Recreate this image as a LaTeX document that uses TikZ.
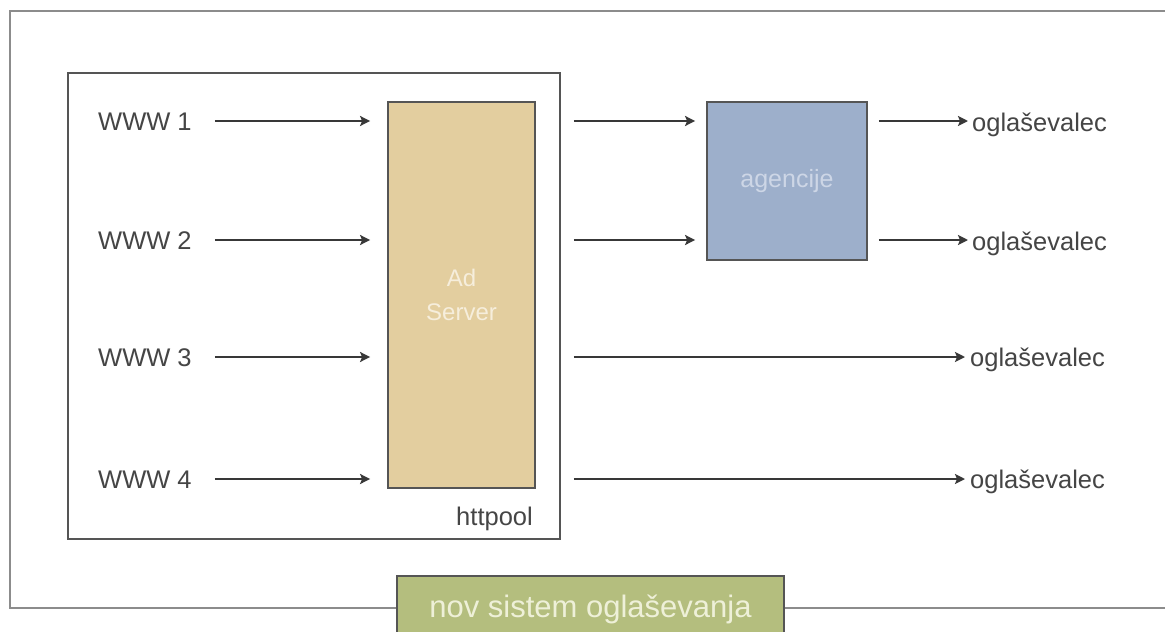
\documentclass[tikz,border=0pt]{standalone}
\usepackage{fontspec}
\setmainfont{Liberation Sans}
\usetikzlibrary{arrows.meta}
\definecolor{tanfill}{HTML}{E3CE9F}
\definecolor{tantext}{HTML}{F6EEDC}
\definecolor{bluefill}{HTML}{9DAFCB}
\definecolor{bluetext}{HTML}{CDD6E6}
\definecolor{greenfill}{HTML}{B4BE7E}
\definecolor{greentext}{HTML}{EEF0D8}
\definecolor{txtgray}{HTML}{454545}
\definecolor{arrgray}{HTML}{383838}
\definecolor{framegray}{HTML}{8C8C8C}
\definecolor{boxgray}{HTML}{555555}
\tikzset{
  lbl/.style={inner sep=0pt, anchor=base west, text=txtgray, font=\fontsize{25.5}{30}\selectfont},
  arr/.style={draw=arrgray, line width=2.2pt, -{Stealth[length=10pt,width=10pt,inset=2pt]}},
  adbox/.style={draw=boxgray, line width=1.8pt, fill=tanfill, minimum width=147pt, minimum height=386pt, inner sep=0pt,
     text=tantext, align=center, font=\fontsize{24}{30}\selectfont},
  agbox/.style={draw=boxgray, line width=1.8pt, fill=bluefill, minimum width=160pt, minimum height=158pt, inner sep=0pt,
     text=bluetext, font=\fontsize{25}{30}\selectfont},
  hpbox/.style={draw=boxgray, line width=1.8pt, minimum width=492pt, minimum height=466pt, inner sep=0pt},
  frame/.style={draw=framegray, line width=2.5pt},
  glbox/.style={draw=boxgray, line width=1.8pt, fill=greenfill, minimum width=387pt, minimum height=60pt, inner sep=0pt,
     text=greentext, text depth=0pt, font=\fontsize{31}{36}\selectfont}
}
\begin{document}
\begin{tikzpicture}[x=1pt,y=-1pt]
\useasboundingbox (0,0) rectangle (1165,632);
\fill[white] (0,0) rectangle (1165,632);
% outer frame (open to the right)
\draw[frame] (1166,11) -- (10,11) -- (10,608) -- (1166,608);
% httpool box
\node[hpbox] (hp) at (314,306) {};
\node[lbl, anchor=base east] (hpl) at (533,525) {httpool};
% rows
\coordinate (r1) at (0,121);
\coordinate (r2) at (0,240);
\coordinate (r3) at (0,357);
\coordinate (r4) at (0,479);
% boxes
\node[adbox] (ad) at (461.5,295) {Ad\\[4pt]Server};
\node[agbox] (ag) at (787,181) {agencije};
% labels
\node[lbl] (w1) at (98,130) {WWW 1};
\node[lbl] (w2) at (98,249) {WWW 2};
\node[lbl] (w3) at (98,366) {WWW 3};
\node[lbl] (w4) at (98,488) {WWW 4};
\node[lbl] (o1) at (972,131) {oglaševalec};
\node[lbl] (o2) at (972,250) {oglaševalec};
\node[lbl] (o3) at (970,366) {oglaševalec};
\node[lbl] (o4) at (970,488) {oglaševalec};
% inputs
\foreach \i in {1,2,3,4}{
  \draw[arr, shorten <=23pt, shorten >=17pt] (w\i.east |- r\i) -- (ad.west |- r\i);
}
% to agencije
\draw[arr, shorten <=38pt, shorten >=11pt] (ad.east |- r1) -- (ag.west |- r1);
\draw[arr, shorten <=38pt, shorten >=11pt] (ad.east |- r2) -- (ag.west |- r2);
% agencije to oglasevalec
\draw[arr, shorten <=11pt, shorten >=4pt] (ag.east |- r1) -- (o1.west |- r1);
\draw[arr, shorten <=11pt, shorten >=4pt] (ag.east |- r2) -- (o2.west |- r2);
% direct
\draw[arr, shorten <=38pt, shorten >=5pt] (ad.east |- r3) -- (o3.west |- r3);
\draw[arr, shorten <=38pt, shorten >=5pt] (ad.east |- r4) -- (o4.west |- r4);
% bottom label
\node[glbox] (gl) at (590.5,606) {nov sistem oglaševanja};
\end{tikzpicture}
\end{document}
